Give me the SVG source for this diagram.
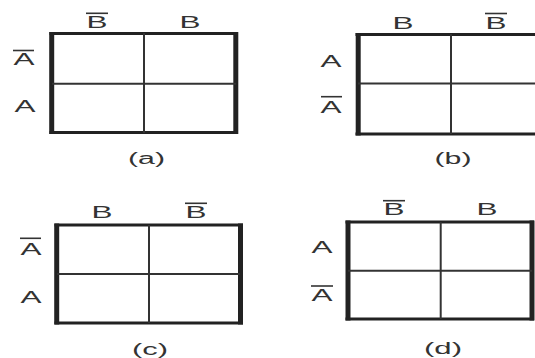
<svg xmlns="http://www.w3.org/2000/svg" width="535" height="358" viewBox="0 0 535 358">
<style>
.side{stroke:#222;stroke-width:5;fill:none}
.tb{stroke:#222;stroke-width:3;fill:none}
.in{stroke:#333;stroke-width:2;fill:none}
.bar{stroke:#333;stroke-width:1.6}
.lbl{font-family:"Liberation Sans",Arial,sans-serif;font-size:17px;fill:#333;text-anchor:middle}
.cap{font-family:"Liberation Sans",Arial,sans-serif;font-size:16px;fill:#333;text-anchor:middle}
</style>
<rect width="535" height="358" fill="#fff"/>
<g id="map-a">
  <line class="tb" x1="49.5" y1="33.5" x2="238" y2="33.5"/>
  <line class="tb" x1="49.5" y1="132.5" x2="238" y2="132.5"/>
  <line class="side" x1="51.7" y1="32" x2="51.7" y2="134"/>
  <line class="side" x1="235.8" y1="32" x2="235.8" y2="134"/>
  <line class="in" x1="144" y1="33" x2="144" y2="133"/>
  <line class="in" x1="52" y1="83.7" x2="236" y2="83.7"/>
  <text class="lbl" x="97" y="27.5" textLength="21" lengthAdjust="spacingAndGlyphs">B</text>
  <line class="bar" x1="86" y1="13.3" x2="108" y2="13.3"/>
  <text class="lbl" x="190" y="28" textLength="21" lengthAdjust="spacingAndGlyphs">B</text>
  <text class="lbl" x="24" y="65" textLength="21" lengthAdjust="spacingAndGlyphs">A</text>
  <line class="bar" x1="13" y1="50.5" x2="34" y2="50.5"/>
  <text class="lbl" x="25" y="111.5" textLength="21" lengthAdjust="spacingAndGlyphs">A</text>
  <text class="cap" x="146.5" y="164" textLength="37" lengthAdjust="spacingAndGlyphs">(a)</text>
</g>
<g id="map-b">
  <line class="tb" x1="355.5" y1="34.5" x2="540" y2="34.5"/>
  <line class="tb" x1="355.5" y1="134" x2="540" y2="134"/>
  <line class="side" x1="358.2" y1="33" x2="358.2" y2="135.5"/>
  <line class="in" x1="451" y1="34" x2="451" y2="134"/>
  <line class="in" x1="358" y1="83.5" x2="540" y2="83.5"/>
  <text class="lbl" x="403" y="29" textLength="21" lengthAdjust="spacingAndGlyphs">B</text>
  <text class="lbl" x="496" y="29" textLength="21" lengthAdjust="spacingAndGlyphs">B</text>
  <line class="bar" x1="485" y1="13.5" x2="507" y2="13.5"/>
  <text class="lbl" x="331" y="66.5" textLength="21" lengthAdjust="spacingAndGlyphs">A</text>
  <text class="lbl" x="331" y="113" textLength="21" lengthAdjust="spacingAndGlyphs">A</text>
  <line class="bar" x1="321" y1="96.7" x2="342" y2="96.7"/>
  <text class="cap" x="453" y="164" textLength="37" lengthAdjust="spacingAndGlyphs">(b)</text>
</g>
<g id="map-c">
  <line class="tb" x1="54.5" y1="225" x2="243" y2="225"/>
  <line class="tb" x1="54.5" y1="323" x2="243" y2="323"/>
  <line class="side" x1="56.7" y1="223.5" x2="56.7" y2="324.5"/>
  <line class="side" x1="240.5" y1="223.5" x2="240.5" y2="324.5"/>
  <line class="in" x1="149" y1="225" x2="149" y2="323"/>
  <line class="in" x1="57" y1="274" x2="240" y2="274"/>
  <text class="lbl" x="102" y="218.3" textLength="21" lengthAdjust="spacingAndGlyphs">B</text>
  <text class="lbl" x="196" y="218" textLength="21" lengthAdjust="spacingAndGlyphs">B</text>
  <line class="bar" x1="185" y1="203.3" x2="207" y2="203.3"/>
  <text class="lbl" x="31" y="255" textLength="21" lengthAdjust="spacingAndGlyphs">A</text>
  <line class="bar" x1="20" y1="238.3" x2="41" y2="238.3"/>
  <text class="lbl" x="31" y="303" textLength="21" lengthAdjust="spacingAndGlyphs">A</text>
  <text class="cap" x="150" y="354.5" textLength="36" lengthAdjust="spacingAndGlyphs">(c)</text>
</g>
<g id="map-d">
  <line class="tb" x1="345.5" y1="222" x2="534" y2="222"/>
  <line class="tb" x1="345.5" y1="319" x2="534" y2="319"/>
  <line class="side" x1="348" y1="220.5" x2="348" y2="320.5"/>
  <line class="side" x1="532" y1="220.5" x2="532" y2="320.5"/>
  <line class="in" x1="440.7" y1="222" x2="440.7" y2="319"/>
  <line class="in" x1="348" y1="270.7" x2="532" y2="270.7"/>
  <text class="lbl" x="394" y="215" textLength="21" lengthAdjust="spacingAndGlyphs">B</text>
  <line class="bar" x1="383" y1="200.7" x2="405" y2="200.7"/>
  <text class="lbl" x="487" y="215" textLength="21" lengthAdjust="spacingAndGlyphs">B</text>
  <text class="lbl" x="322" y="252.7" textLength="21" lengthAdjust="spacingAndGlyphs">A</text>
  <text class="lbl" x="322" y="301" textLength="21" lengthAdjust="spacingAndGlyphs">A</text>
  <line class="bar" x1="311" y1="286" x2="333" y2="286"/>
  <text class="cap" x="443" y="354" textLength="38" lengthAdjust="spacingAndGlyphs">(d)</text>
</g>
</svg>
